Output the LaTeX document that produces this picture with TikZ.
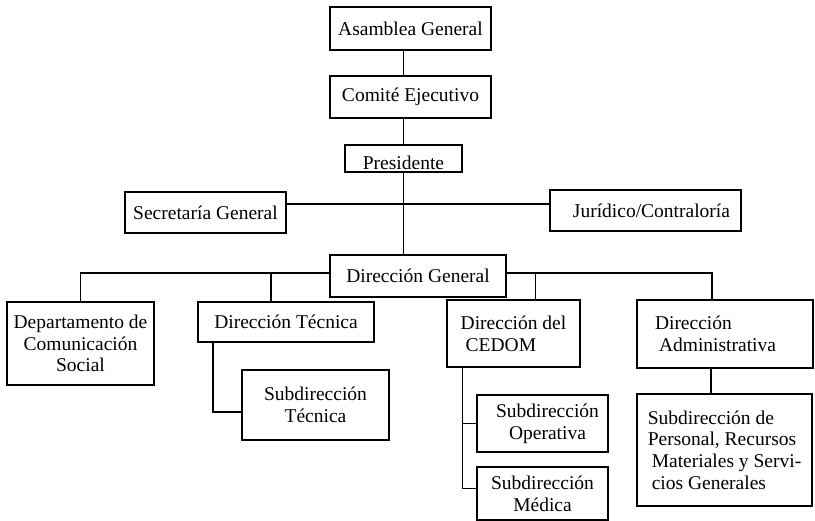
\documentclass[tikz,border=0pt]{standalone}
\usepackage{fontspec}
\setmainfont{Liberation Serif}
\usepackage{tikz}

\begin{document}
\begin{tikzpicture}[x=1pt,y=-1pt,line width=1.1pt,
                    every node/.style={font=\fontsize{19.5}{21.7}\selectfont}]
  \tikzstyle{unit}=[draw=black,rectangle,inner sep=0pt,align=center]
  \useasboundingbox (0,0) rectangle (815,521);

  \node[unit,minimum width=161pt,minimum height=43pt] (asamblea)   at (410.5,28.5) {Asamblea General};
  \node[unit,minimum width=161pt,minimum height=42pt] (comite)     at (410.5,97)   {Comité Ejecutivo};
  \node[unit,minimum width=117pt,minimum height=27pt,inner ysep=2pt,
        text height=22pt,text depth=0pt]              (presidente) at (403.5,158.5) {Presidente};
  \node[unit,minimum width=161pt,minimum height=41pt] (secretaria) at (205.5,212.5) {Secretaría General};
  \node[unit,minimum width=191pt,minimum height=41pt] (juridico)   at (645.5,210.5) {\hspace*{12pt}Jurídico/Contraloría};
  \node[unit,minimum width=176pt,minimum height=42pt] (dgeneral)   at (418,276)     {Dirección General};

  \node[unit,minimum width=147pt,minimum height=83pt] (depto)      at (80.5,343.5)  {Departamento de\\Comunicación\\Social};
  \node[unit,minimum width=176pt,minimum height=40pt] (tecnica)    at (286,322)     {Dirección Técnica};
  \node[unit,minimum width=147pt,minimum height=70pt] (subtec)     at (315.5,405)   {Subdirección\\Técnica};
  \node[unit,minimum width=133pt,minimum height=67pt,align=left] (cedom) at (513.5,333.5) {Dirección del\\\hspace*{5pt}CEDOM};
  \node[unit,minimum width=131pt,minimum height=57pt] (operativa)  at (542.5,423.5) {\hspace*{10pt}Subdirección\\\hspace*{10pt}Operativa};
  \node[unit,minimum width=131pt,minimum height=53pt] (medica)     at (542.5,493.5) {Subdirección\\Médica};
  \node[unit,minimum height=68pt,inner xsep=18pt,text width=140pt,align=left] (admin) at (725,334) {Dirección\\\hspace*{4pt}Administrativa};
  \node[unit,minimum width=175pt,minimum height=112pt,align=left] (personal) at (724.5,450)
        {Subdirección de\\Personal, Recursos\\\hspace*{4pt}Materiales y Servi-\\\hspace*{4pt}cios Generales};

  \coordinate (cruce) at (403.5,204);

  \draw (asamblea.south -| presidente) -- (comite.north -| presidente);
  \draw (comite.south -| presidente) -- (presidente.north);
  \draw (presidente.south) -- (presidente.south |- dgeneral.north);
  \draw (cruce -| secretaria.east) -- (cruce -| juridico.west);

  \draw ([yshift=3pt]dgeneral.west) -| (depto.north);
  \draw ([xshift=-15pt]tecnica.north) -- ([xshift=-15pt]tecnica.north |- 0,273);
  \draw ([yshift=3pt]dgeneral.east) -| ([xshift=-13pt]admin.north);
  \draw ([xshift=22pt]cedom.north) -- ([xshift=22pt]cedom.north |- 0,273);

  \draw ([xshift=-73pt]tecnica.south) |- ([yshift=-7pt]subtec.west);
  \draw ([xshift=-51pt]cedom.south) |- ([yshift=5pt]medica.west);
  \draw ([xshift=-51pt]cedom.south |- operativa.west) -- (operativa.west);
  \draw ([xshift=-14pt]admin.south) -- ([xshift=-14pt]admin.south |- personal.north);
\end{tikzpicture}
\end{document}
